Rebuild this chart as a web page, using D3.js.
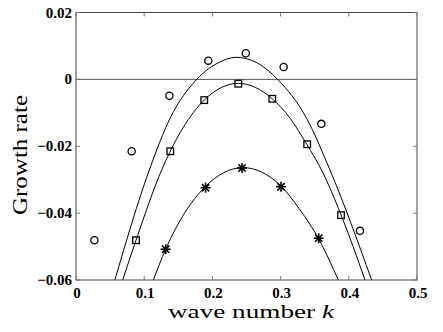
<!DOCTYPE html>
<html>
<head>
<meta charset="utf-8">
<script src="https://cdn.jsdelivr.net/npm/d3@7"></script>
<style>
  html, body { margin: 0; padding: 0; background: #fff; }
  svg { display: block; }
  .serif { font-family: "Liberation Serif", "Times New Roman", Times, "Nimbus Roman", serif; }
</style>
</head>
<body>
<div id="chart"></div>
<script>
// axis ticks
const xTicks = [0, 0.1, 0.2, 0.3, 0.4, 0.5];
const yTicks = [-0.06, -0.04, -0.02, 0, 0.02];

// measured points (wave number, growth rate)
const circleK = [0.027, 0.0816, 0.137, 0.194, 0.249, 0.3045, 0.3597, 0.4164];
const circleS = [-0.0481, -0.0215, -0.0049, 0.0056, 0.0078, 0.0037, -0.0133, -0.0453];

const squareK = [0.088, 0.1383, 0.188, 0.238, 0.2878, 0.339, 0.3886];
const squareS = [-0.0481, -0.0215, -0.0062, -0.0013, -0.0058, -0.0194, -0.0406];

const starK = [0.1315, 0.190, 0.2434, 0.3006, 0.3559];
const starS = [-0.0508, -0.0324, -0.0265, -0.0321, -0.0475];

// theory curves
const upperK = [0.057, 0.1075, 0.138, 0.177, 0.211, 0.2346, 0.265, 0.2957, 0.338, 0.3724, 0.4335];
const upperS = [-0.060, -0.0271, -0.0116, 0.0, 0.0052, 0.0066, 0.0050, 0.0, -0.0116, -0.0271, -0.060];

const middleK = [0.0684, 0.088, 0.1256, 0.188, 0.238, 0.2878, 0.3138, 0.3383, 0.360, 0.3886, 0.4238];
const middleS = [-0.060, -0.0481, -0.0271, -0.0062, -0.0012, -0.0058, -0.0116, -0.0194, -0.0271, -0.0405, -0.060];

const lowerK = [0.1134, 0.1315, 0.188, 0.245, 0.299, 0.3284, 0.3553, 0.3846];
const lowerS = [-0.060, -0.0508, -0.0324, -0.0264, -0.0316, -0.039, -0.0475, -0.060];

const W = 443, H = 332;
const margin = { top: 12.5, right: 26, bottom: 52, left: 76 };
const width = W - margin.left - margin.right;
const height = H - margin.top - margin.bottom;

const zip = (a, b) => a.map((v, i) => [v, b[i]]);

const svg = d3.select("#chart").append("svg")
  .attr("width", W)
  .attr("height", H);

const g = svg.append("g")
  .attr("transform", `translate(${margin.left},${margin.top})`);

const x = d3.scaleLinear().domain([0, 0.5]).range([0, width]);
const y = d3.scaleLinear().domain([-0.06, 0.02]).range([height, 0]);

// clip for curves
svg.append("defs").append("clipPath").attr("id", "clip")
  .append("rect").attr("width", width).attr("height", height);

// zero line
g.append("line")
  .attr("x1", 0).attr("x2", width)
  .attr("y1", y(0)).attr("y2", y(0))
  .attr("stroke", "#555").attr("stroke-width", 1);

// curves
const line = d3.line()
  .x((d) => x(d[0]))
  .y((d) => y(d[1]))
  .curve(d3.curveMonotoneX);

const curves = g.append("g").attr("clip-path", "url(#clip)");
[zip(upperK, upperS), zip(middleK, middleS), zip(lowerK, lowerS)].forEach((c) => {
  curves.append("path")
    .attr("d", line(c))
    .attr("fill", "none")
    .attr("stroke", "#000")
    .attr("stroke-width", 1);
});

// markers
g.append("g").selectAll("circle")
  .data(zip(circleK, circleS))
  .join("circle")
  .attr("cx", (d) => x(d[0]))
  .attr("cy", (d) => y(d[1]))
  .attr("r", 3.6)
  .attr("fill", "none")
  .attr("stroke", "#000")
  .attr("stroke-width", 1.3);

g.append("g").selectAll("rect")
  .data(zip(squareK, squareS))
  .join("rect")
  .attr("x", (d) => x(d[0]) - 3.3)
  .attr("y", (d) => y(d[1]) - 3.3)
  .attr("width", 6.6)
  .attr("height", 6.6)
  .attr("fill", "none")
  .attr("stroke", "#000")
  .attr("stroke-width", 1.3);

const stars = g.append("g").selectAll("g")
  .data(zip(starK, starS))
  .join("g")
  .attr("transform", (d) => `translate(${x(d[0])},${y(d[1])})`)
  .attr("stroke", "#000")
  .attr("stroke-width", 1.6);
const s = 5;
stars.append("line").attr("x1", -s).attr("x2", s).attr("y1", 0).attr("y2", 0);
stars.append("line").attr("x1", 0).attr("x2", 0).attr("y1", -s).attr("y2", s);
stars.append("line").attr("x1", -s * 0.72).attr("x2", s * 0.72).attr("y1", -s * 0.72).attr("y2", s * 0.72);
stars.append("line").attr("x1", -s * 0.72).attr("x2", s * 0.72).attr("y1", s * 0.72).attr("y2", -s * 0.72);

// box
g.append("rect")
  .attr("width", width).attr("height", height)
  .attr("fill", "none")
  .attr("stroke", "#444")
  .attr("stroke-width", 1);

// ticks (inward, all four sides)
const tl = 4;
const tickG = g.append("g").attr("stroke", "#777").attr("stroke-width", 1);
xTicks.forEach((t) => {
  tickG.append("line").attr("x1", x(t)).attr("x2", x(t)).attr("y1", height).attr("y2", height - tl);
  tickG.append("line").attr("x1", x(t)).attr("x2", x(t)).attr("y1", 0).attr("y2", tl);
});
yTicks.forEach((t) => {
  tickG.append("line").attr("x1", 0).attr("x2", tl).attr("y1", y(t)).attr("y2", y(t));
  tickG.append("line").attr("x1", width).attr("x2", width - tl).attr("y1", y(t)).attr("y2", y(t));
});

// tick labels
g.append("g").selectAll("text")
  .data(xTicks)
  .join("text")
  .attr("class", "serif")
  .attr("x", (d) => x(d) + 1)
  .attr("y", height + 17.5)
  .attr("text-anchor", "middle")
  .attr("font-weight", "bold")
  .attr("font-size", 15)
  .text((d) => (d === 0 ? "0" : d3.format(".1f")(d)));

g.append("g").selectAll("text")
  .data(yTicks)
  .join("text")
  .attr("class", "serif")
  .attr("x", -4)
  .attr("y", (d) => y(d) + 5)
  .attr("text-anchor", "end")
  .attr("font-weight", "bold")
  .attr("font-size", 15)
  .text((d) => (d === 0 ? "0" : (d < 0 ? "\u2212" : "") + d3.format(".2f")(Math.abs(d))));

// axis titles
const xl = svg.append("text")
  .attr("class", "serif")
  .attr("x", 251)
  .attr("y", 318)
  .attr("text-anchor", "middle")
  .attr("font-size", 19)
  .attr("textLength", 166)
  .attr("lengthAdjust", "spacingAndGlyphs");
xl.append("tspan").text("wave number ");
xl.append("tspan").attr("font-style", "italic").text("k");

svg.append("text")
  .attr("class", "serif")
  .attr("transform", `translate(27,155) rotate(-90)`)
  .attr("text-anchor", "middle")
  .attr("font-size", 21)
  .attr("textLength", 120)
  .attr("lengthAdjust", "spacingAndGlyphs")
  .text("Growth rate");
</script>
</body>
</html>
